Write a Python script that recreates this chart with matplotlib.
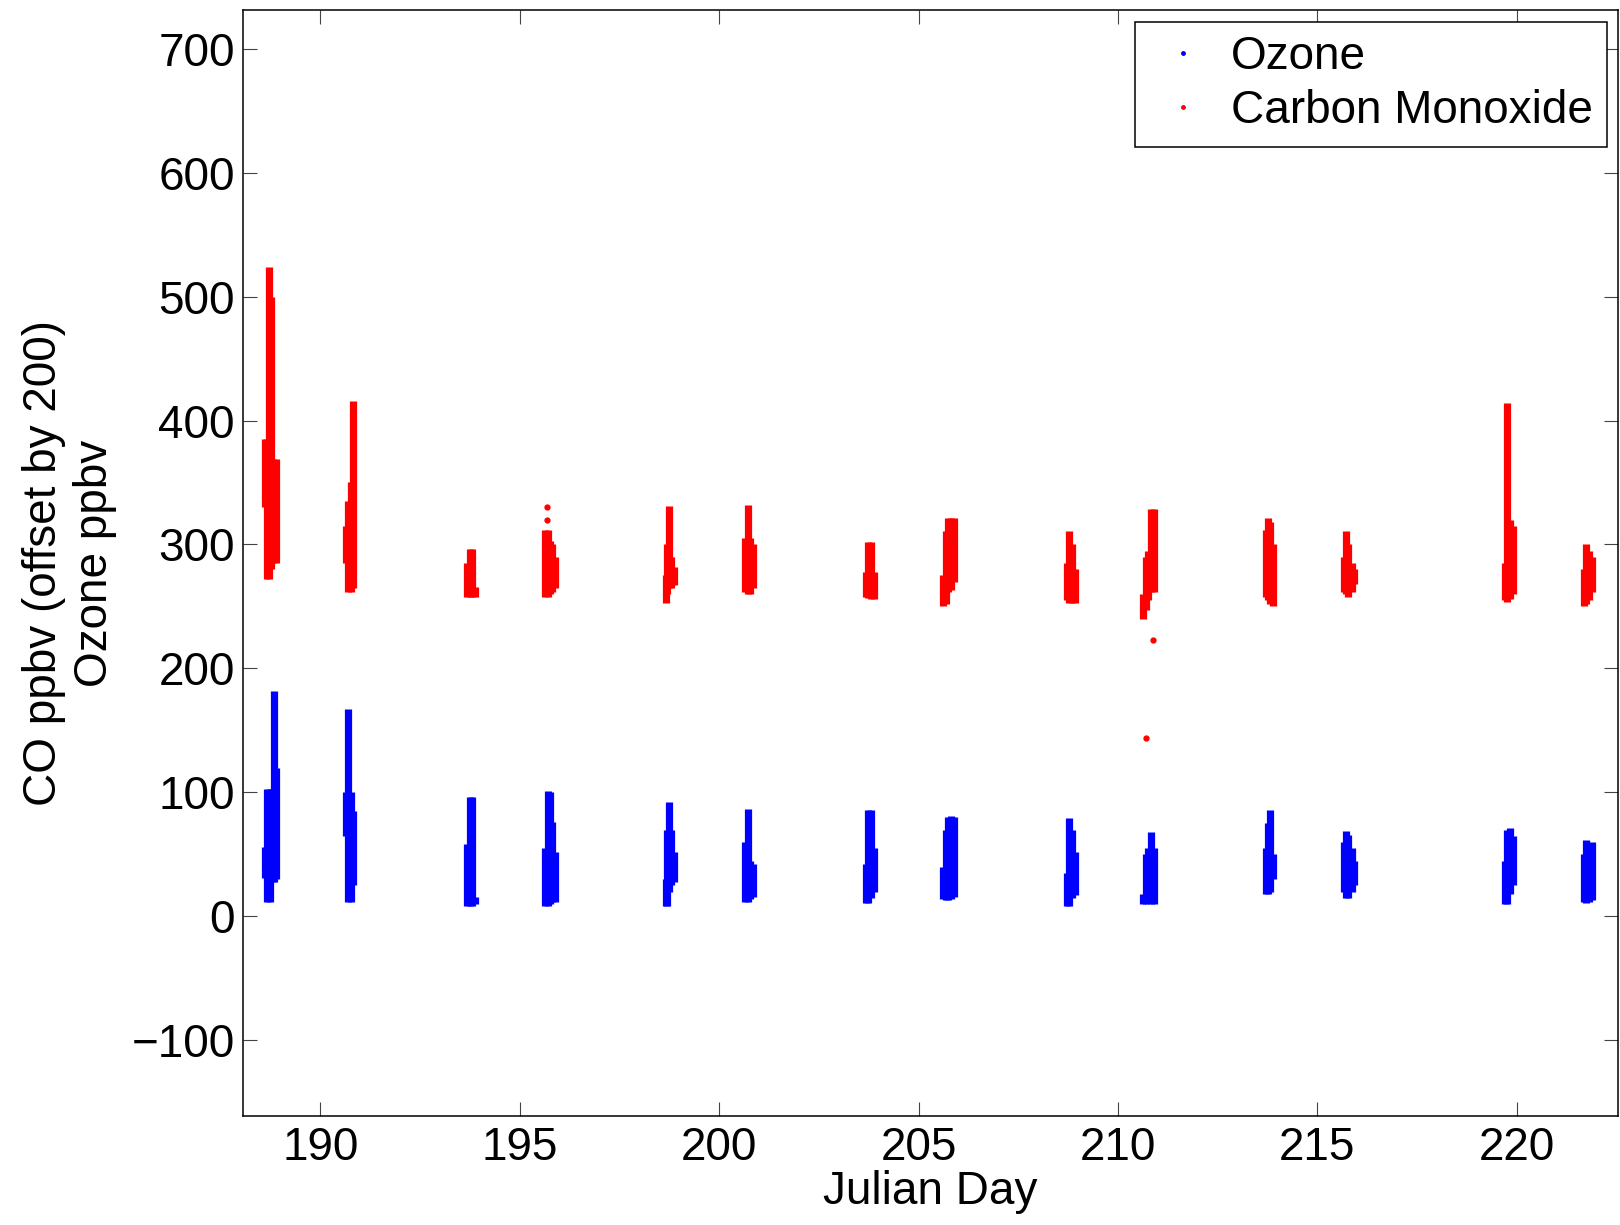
import numpy as np
import matplotlib
matplotlib.use("Agg")
import matplotlib.pyplot as plt
from matplotlib.lines import Line2D

plt.rcParams['font.family'] = ['Liberation Sans', 'DejaVu Sans']

CO_OFFSET = 200  # CO is shifted up so it sits above the ozone traces

# ozone, one short column per slice of each flight: day, lowest and highest ppbv
ozone_day = [188.62, 188.67, 188.73, 188.79, 188.84, 188.90,
             190.64, 190.70, 190.76, 190.83,
             193.68, 193.74, 193.80, 193.88,
             195.64, 195.70, 195.76, 195.82, 195.88,
             198.66, 198.70, 198.74, 198.80, 198.86,
             200.66, 200.72, 200.78, 200.84,
             203.68, 203.74, 203.80, 203.88,
             205.62, 205.68, 205.74, 205.82, 205.90,
             208.72, 208.78, 208.84, 208.92,
             210.64, 210.70, 210.76, 210.82, 210.90,
             213.70, 213.76, 213.82, 213.90,
             215.66, 215.72, 215.78, 215.86, 215.92,
             219.70, 219.76, 219.82, 219.90,
             221.68, 221.74, 221.80, 221.88]
ozone_lo = [31, 12, 12, 28, 28, 30,
            65, 12, 12, 25,
            8, 8, 8, 10,
            8, 8, 10, 12, 12,
            8, 8, 20, 25, 28,
            12, 12, 14, 16,
            11, 11, 15, 20,
            14, 13, 13, 14, 16,
            8, 8, 15, 17,
            10, 10, 12, 10, 10,
            18, 18, 20, 30,
            20, 15, 15, 20, 25,
            10, 10, 18, 25,
            12, 11, 12, 13]
ozone_hi = [56, 103, 103, 103, 182, 120,
            100, 167, 100, 85,
            58, 96, 96, 16,
            55, 101, 100, 76, 52,
            30, 70, 92, 70, 52,
            60, 87, 45, 42,
            42, 86, 86, 55,
            40, 70, 80, 81, 80,
            35, 79, 70, 52,
            18, 50, 55, 68, 55,
            55, 75, 86, 50,
            60, 69, 66, 55, 45,
            45, 70, 71, 65,
            50, 62, 55, 60]

# carbon monoxide, same layout (ppbv before the offset)
co_day = [188.62, 188.66, 188.71, 188.76, 188.82, 188.88,
          190.64, 190.70, 190.76, 190.83,
          193.68, 193.74, 193.80, 193.88,
          195.64, 195.70, 195.76, 195.82, 195.88,
          198.66, 198.70, 198.74, 198.80, 198.86,
          200.66, 200.72, 200.78, 200.84,
          203.68, 203.74, 203.80, 203.88,
          205.62, 205.68, 205.74, 205.82, 205.90,
          208.72, 208.78, 208.84, 208.92,
          210.64, 210.70, 210.76, 210.82, 210.90,
          213.70, 213.76, 213.82, 213.90,
          215.66, 215.72, 215.78, 215.86, 215.92,
          219.70, 219.76, 219.82, 219.90,
          221.68, 221.74, 221.80, 221.88]
co_lo = [130, 72, 72, 80, 85, 85,
         85, 62, 62, 65,
         58, 58, 58, 58,
         58, 58, 60, 62, 65,
         53, 60, 65, 65, 67,
         62, 60, 60, 65,
         58, 57, 56, 56,
         50, 52, 62, 63, 70,
         55, 53, 53, 53,
         40, 47, 55, 62, 62,
         58, 55, 52, 50,
         62, 60, 58, 62, 68,
         55, 54, 56, 60,
         50, 52, 55, 62]
co_hi = [185, 185, 324, 300, 169, 169,
         115, 135, 150, 216,
         85, 96, 96, 66,
         112, 112, 103, 100, 90,
         75, 100, 131, 90, 82,
         105, 132, 105, 100,
         78, 102, 102, 78,
         75, 111, 121, 121, 121,
         85, 111, 100, 80,
         60, 90, 95, 129, 129,
         112, 121, 118, 100,
         90, 111, 100, 85, 80,
         85, 214, 120, 115,
         80, 100, 95, 90]

# stray single CO readings
co_dot_day = [195.68, 195.68, 210.88, 210.71]
co_dot_val = [120, 130, 23, -56]

FS = 33

fig = plt.figure(figsize=(16.2, 12.25), dpi=100)
ax = fig.add_axes([0.150, 0.089, 0.8488, 0.9027])

ax.vlines(ozone_day, ozone_lo, ozone_hi, colors='#0000ff', linewidth=5.2)
ax.vlines(co_day, np.array(co_lo) + CO_OFFSET, np.array(co_hi) + CO_OFFSET,
          colors='#ff0000', linewidth=5.2)
ax.plot(co_dot_day, np.array(co_dot_val) + CO_OFFSET, ls='none',
        marker='o', markersize=3.5, color='#ff0000')

ax.set_xlim(188.06, 222.54)
ax.set_ylim(-161, 731)
ax.set_xticks(np.arange(190, 221, 5))
ax.set_yticks(np.arange(-100, 701, 100))

ax.tick_params(direction='in', length=10, width=0.8, color='#444444',
               labelsize=FS, top=True, right=True, pad=7)
ax.tick_params(axis='y', pad=6)
for sp in ax.spines.values():
    sp.set_linewidth(1.1)

ax.set_xlabel('Julian Day', fontsize=FS, labelpad=0)
ax.set_ylabel('CO ppbv (offset by 200)\nOzone ppbv', fontsize=FS,
              linespacing=1.2)
ax.yaxis.set_label_coords(-0.0915, 0.5)

handles = [Line2D([], [], ls='none', marker='.', markersize=5, color='#0000ff'),
           Line2D([], [], ls='none', marker='.', markersize=5, color='#ff0000')]
leg = ax.legend(handles, ['Ozone', 'Carbon Monoxide'], loc='upper right',
                fontsize=FS, fancybox=False, framealpha=1, edgecolor='black',
                handlelength=1.5, handletextpad=0.3, labelspacing=0.22,
                borderaxespad=0.25, borderpad=0.3)
leg.get_frame().set_linewidth(1.1)

fig.savefig('out.png', dpi=100)
